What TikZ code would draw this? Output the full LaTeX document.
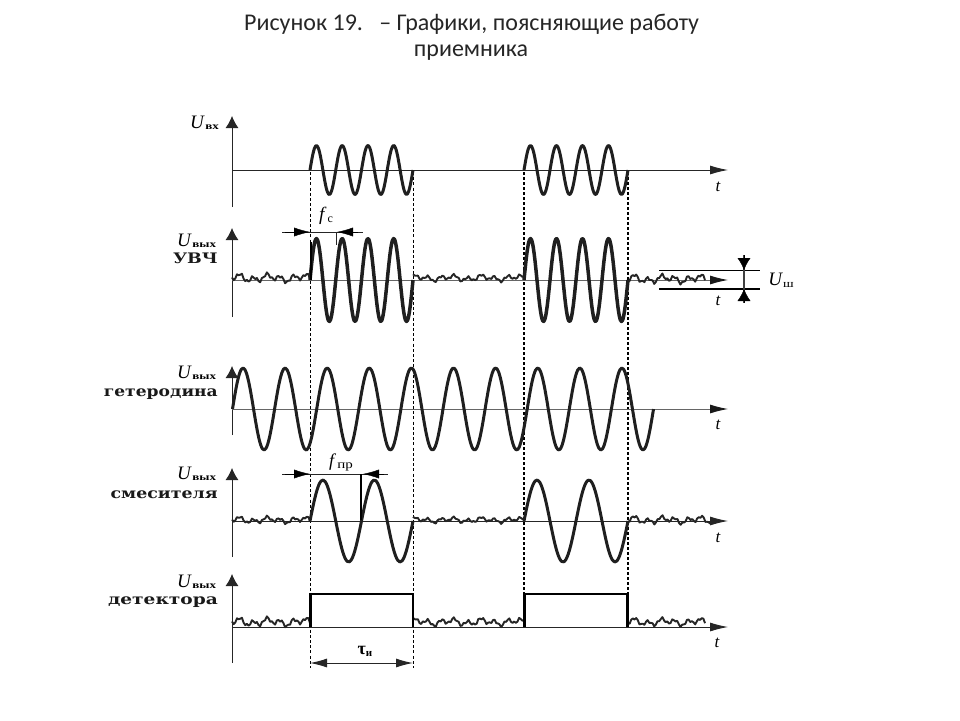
\documentclass[tikz,border=0pt]{standalone}
\usepackage{fontspec}
\usepackage{graphicx}
\setmainfont{Carlito}
\newfontfamily\lab{Liberation Serif}
\newfontfamily\wide{DejaVu Serif}
\usetikzlibrary{arrows.meta}
\tikzset{
  axisline/.style={line width=0.9pt,black!85},
  yaxis/.style={axisline,-{Latex[length=12pt,width=13pt]}},
  taxis/.style={axisline,-{Latex[length=18pt,width=9pt]}},
  taxisg/.style={line width=0.9pt,black!60,-{Latex[length=18pt,width=9pt,black!90]}},
  sig/.style={line width=3pt,black!88,line join=round},
  sigb/.style={line width=3.5pt,black!88,line join=round},
  noisy/.style={line width=1.9pt,black!85,line join=round},
  guide/.style={line width=0.9pt,black,dash pattern=on 3pt off 2.2pt},
  guideb/.style={line width=1.6pt,black,dash pattern=on 2.6pt off 2.4pt},
  meas/.style={line width=1pt,black!85},
  tip/.style={{Latex[length=16pt,width=9pt]}-},
  vtip/.style={{Latex[length=12pt,width=13pt]}-},
  ulab/.style={inner sep=0pt,anchor=base west},
  wlab/.style={inner sep=0pt,anchor=base east,black!90},
  tlab/.style={inner sep=0pt,font=\lab\itshape\fontsize{17}{17}\selectfont},
}
\newcommand{\sinewave}[6][sig]{\draw[#1] plot[smooth,domain=#2:#3,samples=#6*24] (\x,{#4-#5*sin((\x-#2)/(#3-#2)*360*#6)});}
\newcommand{\noisewave}[4]{\draw[noisy] plot[domain=#1:#2,samples={int((#2-#1)/1.6)}] (\x,{#3-#4*(0.6*sin(27*(\x-#1)+#1)+0.35*sin(71*(\x-#1)+2*#1)+0.4*sin(11*(\x-#1)+40))});}
\newcommand{\ulabel}[3]{\node[ulab] at (#1,#2) {\lab\fontsize{19}{19}\selectfont\textit{U}\hspace{0.5pt}\raisebox{-1pt}{\scalebox{1.3}[1]{\fontsize{10}{10}\selectfont\bfseries #3}}};}
\newcommand{\wlabel}[4][1.2]{\node[wlab] at (#2,#3) {\scalebox{#1}[1]{\wide\bfseries\fontsize{14.5}{15}\selectfont #4}};}
\begin{document}
\begin{tikzpicture}[x=1pt,y=-1pt]
\useasboundingbox (0,0) rectangle (960,720);
% title
\node[inner sep=0pt,font=\fontsize{24}{28}\selectfont,text=black!85] (title1) at (471.5,24) {Рисунок 19.\ \ \ – Графики, поясняющие работу};
\node[inner sep=0pt,font=\fontsize{24}{28}\selectfont,text=black!85] (title2) at (471,53) {приемника};

% guides
\draw[guide] (310,172) -- (310,668);
\draw[guide] (413,172) -- (413,668);
\draw[guideb] (524,172) -- (524,594);
\draw[guideb] (628,172) -- (628,594);

% graph 1
\draw[yaxis] (232,207) -- (232,116);
\draw[taxis] (232,170) -- (728,170);
\sinewave{310}{413}{170}{24.5}{4}
\sinewave{524}{628}{170}{24.5}{4}

% graph 2
\draw[yaxis] (232,317) -- (232,228);
\draw[taxisg] (232,280) -- (728,280);
\noisewave{232}{310}{278}{4.5}
\noisewave{413}{524}{278}{3.5}
\noisewave{628}{705}{279}{4.5}
\sinewave[sigb]{310}{413}{280}{41.5}{4}
\sinewave[sigb]{524}{628}{280}{41.5}{4}
\draw[line width=2.6pt] (311,280) -- (311,242);
% f_c
\draw[meas] (282,232) -- (363,232);
\draw[meas] (336.5,232) -- (336.5,245);
\draw[tip] (310,232) -- (285,232);
\draw[tip] (337,232) -- (358,232);
% U_sh
\draw[line width=0.9pt] (659,270) -- (760,270);
\draw[line width=1.6pt] (659,289) -- (760,289);
\draw[line width=1.6pt,black!75] (744,255) -- (744,303);
\draw[vtip] (744,270) -- (744,255);
\draw[vtip] (744,289) -- (744,303);

% graph 3
\draw[yaxis] (232,435) -- (232,366);
\draw[taxisg] (232,409) -- (728,409);
\sinewave{232.5}{653.5}{409}{41}{10}

% graph 4
\draw[yaxis] (232,557) -- (232,468);
\draw[taxis] (232,521) -- (728,521);
\noisewave{232}{310}{520}{3.5}
\noisewave{413}{524}{520}{3}
\noisewave{628}{712}{520}{4}
\sinewave{310}{413}{521}{41}{2}
\sinewave{524}{628}{521}{41}{2}
% f_pr
\draw[meas] (282,474) -- (388,474);
\draw[tip] (310,474) -- (285,474);
\draw[tip] (363,474) -- (384,474);
\draw[line width=2.6pt] (361,474) -- (361,520);

% graph 5
\draw[yaxis] (232,663) -- (232,574);
\draw[taxis] (232,627) -- (728,627);
\noisewave{232}{310}{622}{4.5}
\noisewave{413}{524}{622}{4}
\noisewave{628}{705}{622}{4}
\draw[line width=1.6pt] (310,627) -- (310,594) -- (413,594) -- (413,627);
\draw[line width=1.6pt] (524,627) -- (524,594) -- (628,594) -- (628,627);
\draw[line width=2.4pt] (311,627) -- (311,594);
\draw[line width=2.4pt] (525,627) -- (525,594);
\draw[line width=2.4pt] (627.5,627) -- (627.5,594);
% tau
\draw[meas,{Latex[length=17pt,width=9pt]}-{Latex[length=17pt,width=9pt]}] (310,663) -- (413,663);

% labels
\ulabel{190}{128}{вх}
\ulabel{177}{246}{вых}
\wlabel[1.2]{218}{263}{УВЧ}
\ulabel{177}{378}{вых}
\wlabel[1.18]{218}{396}{гетеродина}
\ulabel{177}{479}{вых}
\wlabel[1.2]{218}{498}{смесителя}
\ulabel{177}{587}{вых}
\wlabel[1.28]{218}{604}{детектора}
\node[inner sep=0pt] (fc) at (326,216) {\lab\fontsize{19}{19}\selectfont\textit{f}\hspace{1pt}\raisebox{-2pt}{\fontsize{12}{12}\selectfont с}};
\node[inner sep=0pt] (fpr) at (341,462) {\lab\fontsize{18}{18}\selectfont\textit{f}\hspace{1pt}\raisebox{-2pt}{\scalebox{1.25}[1]{\fontsize{12}{12}\selectfont пр}}};
\node[inner sep=0pt] (tau) at (365,651) {\lab\bfseries\fontsize{18}{18}\selectfont τ\raisebox{-2pt}{\fontsize{11}{11}\selectfont и}};
\node[inner sep=0pt] (ush) at (781,280) {\lab\fontsize{19}{19}\selectfont\textit{U}\raisebox{-2pt}{\scalebox{1.25}[1]{\fontsize{11}{11}\selectfont ш}}};
\node[tlab] (t1) at (718,187) {t};
\node[tlab] (t2) at (718,301) {t};
\node[tlab] (t3) at (718,425) {t};
\node[tlab] (t4) at (718,538) {t};
\node[tlab] (t5) at (717,643) {t};
\end{tikzpicture}
\end{document}
